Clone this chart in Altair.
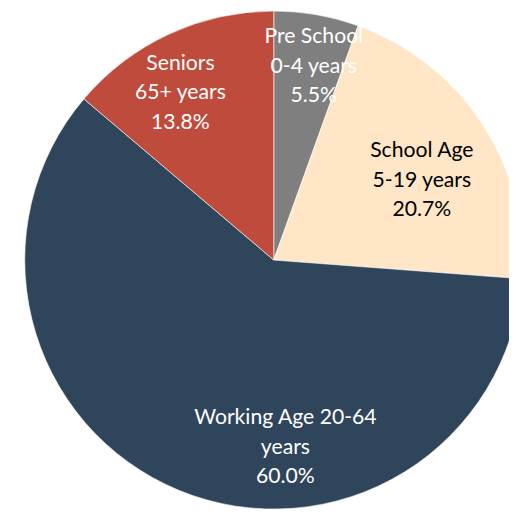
import altair as alt
import pandas as pd

groups = ["Pre School", "School Age", "Working Age", "Seniors"]
ranges = ["0-4 years", "5-19 years", "20-64 years", "65+ years"]
shares = [5.5, 20.7, 60.0, 13.8]
labels = ["Pre School\n0-4 years\n5.5%", "School Age\n5-19 years\n20.7%",
          "Working Age 20-64\nyears\n60.0%", "Seniors\n65+ years\n13.8%"]
colors = ["#7F7F7F", "#FFE6C7", "#2F455C", "#BE4B3B"]
text_colors = ["white", "black", "white", "white"]

df = pd.DataFrame({"group": groups, "range": ranges, "share": shares,
                   "label": labels, "idx": list(range(len(groups)))})

CX, CY, R = 270, 252, 253

base = alt.Chart(df).encode(x=alt.value(CX), y=alt.value(CY))

pie = base.mark_arc(outerRadius=R, stroke="white", strokeWidth=0.6).encode(
    theta=alt.Theta("share:Q", stack=True),
    color=alt.Color("group:N", scale=alt.Scale(domain=groups, range=colors), legend=None),
    order=alt.Order("idx:Q"),
)

offsets = {"Pre School": (8, -39), "School Age": (-9, -7),
           "Working Age": (84, -15), "Seniors": (-15, -27)}

text_base = base.transform_window(
    cum="sum(share)", sort=[alt.SortField("idx")]
).transform_calculate(mid="datum.cum - datum.share / 2")

layers = [pie]
for g, tc in zip(groups, text_colors):
    dx, dy = offsets[g]
    layers.append(
        text_base.transform_filter(alt.datum.group == g).mark_text(
            radius=190, dx=dx, dy=dy, lineBreak="\n", lineHeight=30,
            fontSize=21.5, font="Lato", color=tc, align="center", baseline="middle"
        ).encode(
            theta=alt.Theta("mid:Q", stack=None, scale=alt.Scale(domain=[0, 100])),
            text="label:N",
        )
    )

chart = alt.layer(*layers).properties(
    width=509, height=511, padding=0, autosize=alt.AutoSizeParams(type="none")
).configure_view(stroke=None)

chart.save("out.html", embed_options={"renderer": "svg", "actions": False})
